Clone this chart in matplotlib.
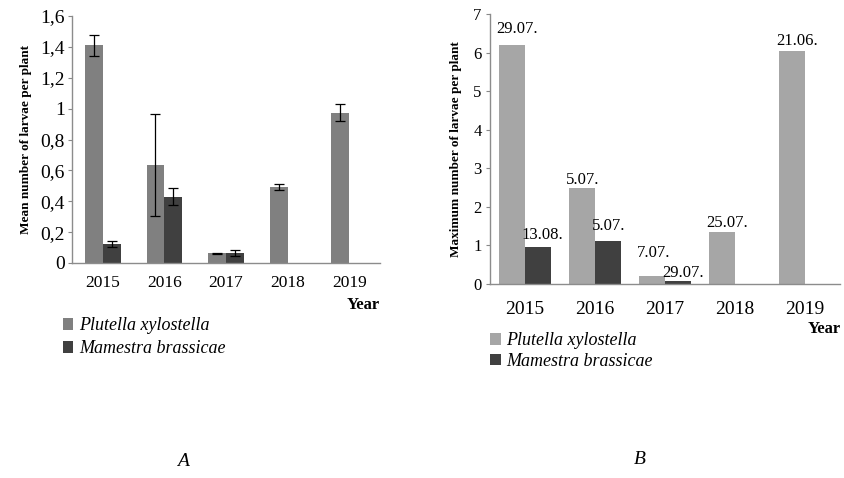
import numpy as np
import matplotlib.pyplot as plt

plt.rcParams['font.family'] = ['Liberation Serif', 'DejaVu Serif']

years = ['2015', '2016', '2017', '2018', '2019']
species = ['Plutella xylostella', 'Mamestra brassicae']

# A: mean number of larvae per plant (with error)
mean_px = [1.41, 0.635, 0.063, 0.49, 0.973]
err_px = [0.07, 0.33, 0.004, 0.02, 0.056]
mean_mb = [0.123, 0.43, 0.063, np.nan, np.nan]
err_mb = [0.02, 0.056, 0.02, np.nan, np.nan]

# B: maximum number of larvae per plant and date of the maximum
max_px = [6.2, 2.5, 0.2, 1.36, 6.03]
max_mb = [0.95, 1.12, 0.08, np.nan, np.nan]
date_px = ['29.07.', '5.07.', '7.07.', '25.07.', '21.06.']
date_mb = ['13.08.', '5.07.', '29.07.', '', '']

# how far (pt) each date label sits above its bar
lift_px = [8.6, 2.9, 13.7, 3.6, 4.3]
lift_mb = [5.8, 7.9, 2.9, 0, 0]

def comma(v, pos):
    s = f'{v:.1f}'.rstrip('0').rstrip('.')
    return s.replace('.', ',')

fig = plt.figure(figsize=(8.44, 4.78), dpi=100)
x = np.arange(len(years))

# ---- chart A ----
axA = fig.add_axes([0.0853, 0.4498, 0.3649, 0.5167])
w = 0.29
axA.bar(x - w / 2, mean_px, w, color='#808080', label=species[0])
axA.bar(x + w / 2, mean_mb, w, color='#404040', label=species[1])
axA.errorbar(x - w / 2, mean_px, yerr=err_px, fmt='none', ecolor='black',
             elinewidth=0.9, capsize=3.5, capthick=0.9)
axA.errorbar(x + w / 2, mean_mb, yerr=err_mb, fmt='none', ecolor='black',
             elinewidth=0.9, capsize=3.5, capthick=0.9)
axA.set_ylim(0, 1.6)
axA.set_yticks(np.arange(0, 1.61, 0.2))
axA.yaxis.set_major_formatter(plt.FuncFormatter(comma))
axA.set_ylabel('Mean number of larvae per plant', fontsize=9.5,
               fontweight='bold', labelpad=6)
axA.tick_params(axis='y', labelsize=14, length=3, color='#888888', pad=2)
axA.tick_params(axis='x', labelsize=12.5, length=0, pad=9)

# ---- chart B ----
axB = fig.add_axes([0.5806, 0.4059, 0.4147, 0.5649])
w2 = 0.365
bp = axB.bar(x - w2 / 2, max_px, w2, color='#a6a6a6', label=species[0])
bm = axB.bar(x + w2 / 2, max_mb, w2, color='#404040', label=species[1])
for bars, vals, dates, lifts in ((bp, max_px, date_px, lift_px),
                                 (bm, max_mb, date_mb, lift_mb)):
    for rect, v, d, dy in zip(bars, vals, dates, lifts):
        if d:
            axB.annotate(d, (rect.get_x(), v), xytext=(-2.2, dy),
                         textcoords='offset points', ha='left',
                         va='baseline', fontsize=12)
axB.set_ylim(0, 7)
axB.set_yticks(range(0, 8))
axB.set_ylabel('Maximum number of larvae per plant', fontsize=9.5,
               fontweight='bold', labelpad=8)
axB.tick_params(axis='y', labelsize=12, length=3, color='#888888', pad=3)
axB.tick_params(axis='x', labelsize=14, length=0, pad=12)

for ax in (axA, axB):
    ax.set_xticks(x)
    ax.set_xticklabels(years)
    ax.set_xlim(-0.5, len(years) - 0.5)
    for s in ('top', 'right'):
        ax.spines[s].set_visible(False)
    for s in ('left', 'bottom'):
        ax.spines[s].set_color('#8c8c8c')
        ax.spines[s].set_linewidth(1.0)

fig.text(0.43, 0.353, 'Year', fontsize=12, fontweight='bold', ha='center')
fig.text(0.977, 0.303, 'Year', fontsize=12, fontweight='bold', ha='center')

axA.legend(loc='upper left', bbox_to_anchor=(-0.054, -0.19), frameon=False,
           prop={'style': 'italic', 'size': 13}, handlelength=0.6,
           handleheight=0.6, handletextpad=0.3, labelspacing=0.35,
           borderaxespad=0)
axB.legend(loc='upper left', bbox_to_anchor=(-0.02, -0.152), frameon=False,
           prop={'style': 'italic', 'size': 13}, handlelength=0.6,
           handleheight=0.6, handletextpad=0.3, labelspacing=0.2,
           borderaxespad=0)

fig.text(0.217, 0.025, 'A', fontsize=14, style='italic', ha='center')
fig.text(0.758, 0.03, 'B', fontsize=14, style='italic', ha='center')

fig.savefig('out.png', dpi=100)
